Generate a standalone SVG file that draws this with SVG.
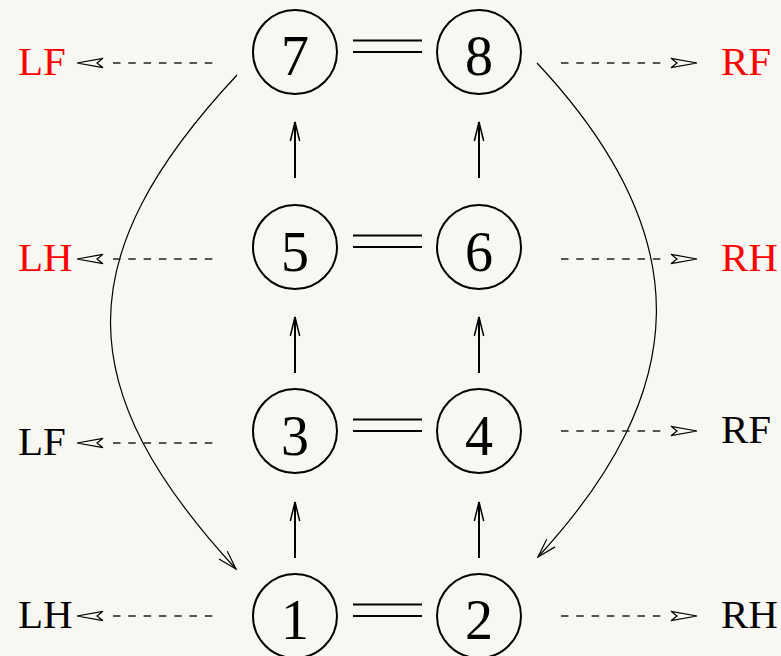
<svg xmlns="http://www.w3.org/2000/svg" xmlns:xlink="http://www.w3.org/1999/xlink" width="781" height="656" viewBox="0 0 781 656">
<style>
.node circle{fill:none;stroke:#000;stroke-width:2}
.num{font-family:"Liberation Serif","Times New Roman",serif;font-size:56px;text-anchor:middle;fill:#000}
.lbl{font-family:"Liberation Serif","Times New Roman",serif;font-size:41px;fill:#000}
.red{fill:#ff0000}
.dbl{stroke:#000;stroke-width:2.2;fill:none}
.up{stroke:#000;stroke-width:2;fill:none;marker-end:url(#ah)}
.crv{stroke:#000;stroke-width:1.2;fill:none;marker-end:url(#ah2)}
.dash{stroke:#222;stroke-width:1.3;stroke-dasharray:7.5 7.8;fill:none}
.head{fill:none;stroke:#000;stroke-width:1.2;stroke-linejoin:miter}
</style>
<defs>
<marker id="ah" markerUnits="userSpaceOnUse" viewBox="0 0 22 12" refX="20" refY="6" markerWidth="22" markerHeight="12" orient="auto">
<path d="M1,1.3 L20,6 L1,10.7" fill="none" stroke="#000" stroke-width="1.5"/>
</marker>
<marker id="ah2" markerUnits="userSpaceOnUse" viewBox="0 0 22 14" refX="20" refY="7" markerWidth="22" markerHeight="14" orient="auto">
<path d="M1,1.3 L20,7 L1,12.7" fill="none" stroke="#000" stroke-width="1.2"/>
</marker>
<path id="hr" class="head" d="M0,0 L-26,-4.7 L-20,0 L-26,4.7 Z"/>
</defs>
<rect width="781" height="656" fill="#f8f7f1"/>

<g id="connectors">
<path class="dbl" d="M353,40.5 H422 M353,52 H422"/>
<path class="dbl" d="M353,235.5 H422 M353,247 H422"/>
<path class="dbl" d="M353,419.5 H422 M353,431 H422"/>
<path class="dbl" d="M353,604.5 H422 M353,616 H422"/>

<path class="up" d="M295,558 V502"/>
<path class="up" d="M479,558 V502"/>
<path class="up" d="M295,373 V317"/>
<path class="up" d="M479,373 V317"/>
<path class="up" d="M295,178 V122"/>
<path class="up" d="M479,178 V122"/>

<path class="crv" d="M237,75 C67,257 70,389 236,569"/>
<path class="crv" d="M537,63 C702,239 690,392 538,557"/>

<path class="dash" d="M113,63 H213 M113,259 H213 M113,443 H213 M113,616 H213"/>
<path class="dash" d="M561,63 H661 M561,259 H661 M561,431 H661 M561,616 H661"/>
<use xlink:href="#hr" transform="translate(77,63) rotate(180)"/>
<use xlink:href="#hr" transform="translate(77,259) rotate(180)"/>
<use xlink:href="#hr" transform="translate(77,443) rotate(180)"/>
<use xlink:href="#hr" transform="translate(77,616) rotate(180)"/>
<use xlink:href="#hr" transform="translate(697,63)"/>
<use xlink:href="#hr" transform="translate(697,259)"/>
<use xlink:href="#hr" transform="translate(697,431)"/>
<use xlink:href="#hr" transform="translate(697,616)"/>
</g>

<g id="n7" class="node"><circle cx="295" cy="52" r="42"/><text class="num" x="295" y="75">7</text></g>
<g id="n8" class="node"><circle cx="479" cy="52" r="42"/><text class="num" x="479" y="75">8</text></g>
<g id="n5" class="node"><circle cx="295" cy="247" r="42"/><text class="num" x="295" y="271">5</text></g>
<g id="n6" class="node"><circle cx="479" cy="247" r="42"/><text class="num" x="479" y="271">6</text></g>
<g id="n3" class="node"><circle cx="295" cy="431" r="42"/><text class="num" x="295" y="455">3</text></g>
<g id="n4" class="node"><circle cx="479" cy="431" r="42"/><text class="num" x="479" y="455">4</text></g>
<g id="n1" class="node"><circle cx="295" cy="616" r="42"/><text class="num" x="295" y="639">1</text></g>
<g id="n2" class="node"><circle cx="479" cy="616" r="42"/><text class="num" x="479" y="639">2</text></g>

<g id="labels">
<text class="lbl red" x="18" y="75">LF</text>
<text class="lbl red" x="18" y="271">LH</text>
<text class="lbl" x="18" y="455">LF</text>
<text class="lbl" x="18" y="628">LH</text>
<text class="lbl red" x="721" y="75">RF</text>
<text class="lbl red" x="721" y="271">RH</text>
<text class="lbl" x="721" y="443">RF</text>
<text class="lbl" x="721" y="628">RH</text>
</g>
</svg>
